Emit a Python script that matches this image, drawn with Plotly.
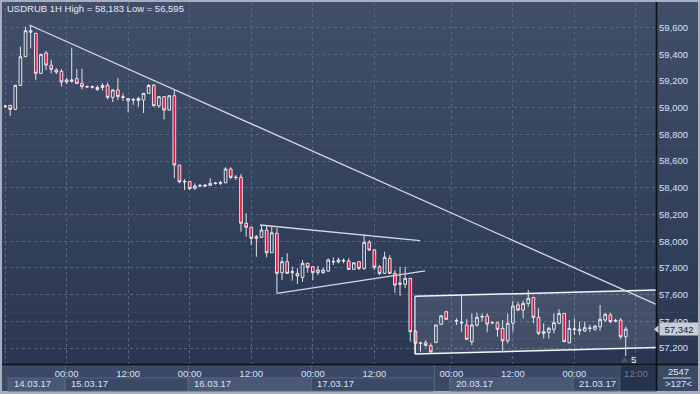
import plotly.graph_objects as go

# ---------------- data ----------------
title_text = "USDRUB 1H High = 58,183 Low = 56,595"

opens = [59.006, 59.018, 58.988, 59.168, 59.382, 59.577, 59.558, 59.258, 59.410, 59.318,
         59.268, 59.272, 59.193, 59.198, 59.218, 59.183, 59.156, 59.155, 59.152, 59.152,
         59.168, 59.078, 59.133, 59.078, 59.069, 59.058, 59.054, 59.058, 59.108, 59.170,
         59.015, 59.083, 58.983, 59.090, 58.571, 58.444, 58.448, 58.397, 58.414, 58.412,
         58.419, 58.433, 58.434, 58.439, 58.541, 58.478, 58.479, 58.135, 58.105, 58.022,
         58.030, 58.084, 57.914, 58.060, 57.765, 57.847, 57.765, 57.760, 57.730, 57.835,
         57.809, 57.765, 57.765, 57.777, 57.845, 57.845, 57.852, 57.852, 57.790, 57.847,
         57.797, 57.992, 57.935, 57.809, 57.760, 57.872, 57.760, 57.678, 57.678, 57.723,
         57.328, 57.236, 57.240, 57.218, 57.243, 57.378, 57.472, None, 57.403, 57.388,
         57.373, 57.248, 57.373, 57.433, 57.440, 57.390, 57.390, 57.348, 57.255, 57.386,
         57.523, 57.485, 57.535, 57.580, 57.430, 57.311, 57.318, 57.341, 57.386, 57.460,
         57.240, 57.339, 57.330, 57.328, 57.347, 57.341, 57.360, 57.410, 57.448, 57.407,
         57.410, 57.285]
highs = [59.021, 59.021, 59.170, 59.457, 59.607, 59.620, 59.560, 59.403, 59.425, 59.360,
         59.295, 59.290, 59.223, 59.450, 59.290, 59.292, 59.168, 59.167, 59.167, 59.183,
         59.188, 59.137, 59.223, 59.107, 59.073, 59.073, 59.083, 59.110, 59.178, 59.178,
         59.088, 59.088, 59.096, 59.133, 58.572, 58.466, 58.451, 58.434, 58.429, 58.425,
         58.472, 58.444, 58.454, 58.554, 58.554, 58.496, 58.504, 58.209, 58.107, 58.047,
         58.122, 58.114, 58.109, 58.099, 57.882, 57.910, 57.809, 57.797, 57.860, 57.837,
         57.815, 57.815, 57.802, 57.872, 57.880, 57.877, 57.872, 57.872, 57.839, 57.847,
         58.047, 58.009, 57.942, 57.822, 57.922, 57.897, 57.785, 57.809, 57.809, 57.725,
         57.335, 57.248, 57.260, 57.236, 57.373, 57.448, 57.478, None, 57.423, 57.598,
         57.416, 57.460, 57.465, 57.460, 57.460, 57.398, 57.395, 57.410, 57.460, 57.555,
         57.547, 57.555, 57.635, 57.583, 57.498, 57.386, 57.360, 57.460, 57.490, 57.463,
         57.410, 57.423, 57.398, 57.398, 57.373, 57.373, 57.523, 57.465, 57.465, 57.418,
         57.423, 57.360]
lows = [58.998, 58.940, 58.983, 59.163, 59.380, 59.445, 59.208, 59.253, 59.283, 59.258,
        59.253, 59.159, 59.178, 59.188, 59.178, 59.138, 59.148, 59.144, 59.125, 59.128,
        59.063, 59.043, 59.058, 59.051, 58.964, 59.021, 59.008, 58.961, 59.107, 59.008,
        58.998, 58.913, 58.979, 58.472, 58.434, 58.384, 58.384, 58.384, 58.404, 58.410,
        58.418, 58.425, 58.421, 58.434, 58.464, 58.459, 58.072, 58.034, 57.972, 57.884,
        58.024, 57.880, 57.912, 57.610, 57.710, 57.755, 57.705, 57.680, 57.697, 57.765,
        57.710, 57.747, 57.755, 57.772, 57.822, 57.835, 57.835, 57.785, 57.785, 57.785,
        57.785, 57.927, 57.785, 57.747, 57.755, 57.755, 57.615, 57.592, 57.650, 57.248,
        57.161, 57.173, 57.210, 57.156, 57.236, 57.373, 57.410, None, 57.373, 57.323,
        57.260, 57.223, 57.360, 57.398, 57.318, 57.378, 57.285, 57.173, 57.236, 57.323,
        57.478, 57.423, 57.510, 57.386, 57.298, 57.273, 57.273, 57.311, 57.380, 57.245,
        57.236, 57.298, 57.298, 57.324, 57.323, 57.330, 57.330, 57.398, 57.386, 57.393,
        57.266, 57.141]
closes = [59.013, 58.988, 59.168, 59.382, 59.577, 59.565, 59.258, 59.400, 59.320, 59.288,
          59.283, 59.193, 59.208, 59.208, 59.183, 59.158, 59.158, 59.156, 59.137, 59.167,
          59.078, 59.133, 59.084, 59.081, 59.052, 59.060, 59.069, 59.108, 59.167, 59.015,
          59.083, 58.983, 59.090, 58.571, 58.446, 58.448, 58.395, 58.414, 58.418, 58.421,
          58.434, 58.435, 58.439, 58.541, 58.479, 58.479, 58.135, 58.105, 58.022, 58.034,
          58.084, 57.914, 58.064, 57.760, 57.847, 57.760, 57.772, 57.740, 57.835, 57.805,
          57.765, 57.785, 57.785, 57.860, 57.848, 57.860, 57.856, 57.790, 57.839, 57.797,
          57.992, 57.935, 57.805, 57.760, 57.880, 57.760, 57.672, 57.685, 57.723, 57.323,
          57.236, 57.237, 57.221, 57.173, 57.373, 57.442, 57.416, None, 57.405, 57.393,
          57.266, 57.373, 57.430, 57.436, 57.380, 57.392, 57.341, 57.255, 57.386, 57.515,
          57.485, 57.535, 57.573, 57.430, 57.311, 57.323, 57.348, 57.390, 57.460, 57.248,
          57.348, 57.343, 57.341, 57.353, 57.350, 57.365, 57.416, 57.453, 57.398, 57.403,
          57.285, 57.342]

time_tick_idx = [0, 12, 24, 36, 48, 60, 72, 87, 99, 111, 123]
time_tick_text = ["12:00", "00:00", "12:00", "00:00", "12:00", "00:00",
                  "12:00", "00:00", "12:00", "00:00", "12:00"]
day_start_idx = [0.9, 12, 36, 60, 87, 111]
day_end_idx = [12, 36, 60, 84, 111, 120]
day_labels = ["14.03.17", "15.03.17", "16.03.17", "17.03.17", "20.03.17", "21.03.17"]

last_price = 57.342
last_price_text = "57,342"
bars_count = "2547"
scale_text = ">127<"
marker_text = "5"
marker_idx = [120.8]
marker_price = [57.107]

main_trend_x = [4.74, 128]
main_trend_y = [59.620, 57.510]
tri_upper_x = [49.7, 80.9]
tri_upper_y = [58.122, 58.005]
tri_lower_x = [53.0, 81.9]
tri_lower_y = [57.610, 57.779]
channel_x = [79.9, 128]
channel_top = [57.588, 57.636]
channel_bot = [57.156, 57.205]

# ---------------- geometry ----------------
W, H = 700, 394
ML, MR, MT, MB = 4, 44, 2, 30
PW = W - ML - MR
PH = H - MT - MB


def pxx(X):
    return (X - ML) / PW


def pxy(Y):
    return (H - MB - Y) / PH


FONT = "Liberation Sans, Arial, sans-serif"
LABEL = "#d6e2f6"

shapes = []


def rect(X0, Y0, X1, Y1, color, layer="below", line=None):
    shapes.append(dict(type="rect", xref="paper", yref="paper",
                       x0=pxx(X0), x1=pxx(X1), y0=pxy(Y1), y1=pxy(Y0),
                       fillcolor=color, layer=layer,
                       line=line or dict(width=0)))


def hline(X0, X1, Y, color, width=1, layer="below"):
    shapes.append(dict(type="line", xref="paper", yref="paper",
                       x0=pxx(X0), x1=pxx(X1), y0=pxy(Y), y1=pxy(Y),
                       line=dict(color=color, width=width), layer=layer))


def vline(X, Y0, Y1, color, width=1, layer="below"):
    shapes.append(dict(type="line", xref="paper", yref="paper",
                       x0=pxx(X), x1=pxx(X), y0=pxy(Y0), y1=pxy(Y1),
                       line=dict(color=color, width=width), layer=layer))


# gradient background (stepped)
top_c = (64, 78, 106)
bot_c = (43, 55, 82)
N = 28
Y0, Y1 = 2, 364
for k in range(N):
    t = k / (N - 1)
    col = tuple(round(top_c[j] + (bot_c[j] - top_c[j]) * t) for j in range(3))
    ya = Y0 + (Y1 - Y0) * k / N
    yb = Y0 + (Y1 - Y0) * (k + 1) / N
    rect(2, ya, 698, yb + 0.5, "rgb(%d,%d,%d)" % col)

# time band
BAND = "#3c4966"
rect(2, 364, 698, 391, BAND)

# channel fill (between grid and traces)
shapes.append(dict(type="path", xref="x", yref="y", layer="between",
                   path="M %g,%g L %g,%g L %g,%g L %g,%g Z" % (
                       channel_x[0], channel_top[0], channel_x[1], channel_top[1],
                       channel_x[1], channel_bot[1], channel_x[0], channel_bot[0]),
                   fillcolor="rgba(220,228,245,0.13)", line=dict(width=0)))

# date boxes
for k, (a, b) in enumerate(zip(day_start_idx, day_end_idx)):
    fill = "#4a5775" if k in (0, 2, 4) else BAND
    shapes.append(dict(type="rect", xref="x", yref="paper",
                       x0=a - 0.3, x1=b - 0.3, y0=pxy(391), y1=pxy(378),
                       fillcolor=fill, line=dict(color="#56637e", width=1),
                       layer="below"))
# day separators in the time band
for a in day_start_idx[1:] + [84]:
    shapes.append(dict(type="line", xref="x", yref="paper",
                       x0=a - 0.3, x1=a - 0.3, y0=pxy(391), y1=pxy(365),
                       line=dict(color="#56637e", width=1), layer="below"))
# current-time dark box
shapes.append(dict(type="rect", xref="x", yref="paper",
                   x0=119.9, x1=127.5, y0=pxy(391), y1=pxy(365),
                   fillcolor="#28334c", line=dict(color="#46526c", width=1),
                   layer="below"))

# separators (black)
hline(2, 698, 364.5, "#0b1019", 1.6, layer="above")
vline(656.5, 2, 391, "#0b1019", 1.6, layer="above")
# cover left edge of time row (clipped label in reference)
rect(0, 365.3, 2, 378, "#a7afbe", layer="above")
rect(2, 365.3, 4.6, 378, BAND, layer="above")

# underline in count box
hline(663, 691, 378, "#c9d4e8", 1, layer="above")

# price tag arrow
shapes.append(dict(type="path", xref="paper", yref="paper", layer="above",
                   path="M %g,%g L %g,%g L %g,%g Z" % (
                       pxx(654), pxy(329.3), pxx(658.5), pxy(325.3), pxx(658.5), pxy(333.3)),
                   fillcolor="#c8cdd7", line=dict(width=0)))

fig = go.Figure()

idx = list(range(len(opens)))
fig.add_trace(go.Candlestick(
    x=idx, open=opens, high=highs, low=lows, close=closes,
    increasing=dict(line=dict(color="#f3f5f8", width=0.9), fillcolor="rgba(0,0,0,0)"),
    decreasing=dict(line=dict(color="#f3f5f8", width=0.9), fillcolor="#e5103a"),
    whiskerwidth=0, showlegend=False))

# channel border lines
for yy in (channel_top, channel_bot):
    fig.add_trace(go.Scatter(x=channel_x, y=yy, mode="lines",
                             line=dict(color="#f4f5f8", width=1.5),
                             showlegend=False, hoverinfo="skip"))
fig.add_trace(go.Scatter(x=[channel_x[0], channel_x[0]], y=[channel_bot[0], channel_top[0]],
                         mode="lines", line=dict(color="#f4f5f8", width=1.2),
                         showlegend=False, hoverinfo="skip"))
# trend lines
for xx, yy in ((main_trend_x, main_trend_y), (tri_upper_x, tri_upper_y),
               (tri_lower_x, tri_lower_y)):
    fig.add_trace(go.Scatter(x=xx, y=yy, mode="lines",
                             line=dict(color="#d5d9e1", width=1.3),
                             showlegend=False, hoverinfo="skip"))
# marker
fig.add_trace(go.Scatter(x=marker_idx, y=marker_price, mode="markers",
                         marker=dict(symbol="triangle-up", size=7, color="#4b5772"),
                         showlegend=False, hoverinfo="skip"))

annotations = []
annotations.append(dict(text=title_text, xref="paper", yref="paper",
                        x=pxx(5), y=pxy(8.5), xanchor="left", yanchor="middle",
                        showarrow=False, font=dict(family=FONT, size=9.5, color="#e6ebf3")))
for a, lab in zip(day_start_idx, day_labels):
    annotations.append(dict(text=lab, xref="x", yref="paper", x=a - 0.3, xshift=4,
                            y=pxy(383.5), xanchor="left", yanchor="middle",
                            showarrow=False, font=dict(family=FONT, size=9.5, color="#d9e3f3")))
annotations.append(dict(text=marker_text, xref="x", yref="y", x=122.5, y=57.116,
                        xanchor="center", yanchor="middle", showarrow=False,
                        font=dict(family=FONT, size=9.5, color="#eef1f6")))
annotations.append(dict(text=last_price_text, xref="paper", yref="y", x=pxx(658.5),
                        y=last_price, xanchor="left", yanchor="middle", showarrow=False,
                        width=36, height=10, bgcolor="#c8cdd7", borderpad=1,
                        font=dict(family=FONT, size=9.5, color="#17223b")))
annotations.append(dict(text=bars_count, xref="paper", yref="paper", x=pxx(678),
                        y=pxy(371.5), xanchor="center", yanchor="middle", showarrow=False,
                        font=dict(family=FONT, size=9.5, color="#dde6f5")))
annotations.append(dict(text=scale_text, xref="paper", yref="paper", x=pxx(678),
                        y=pxy(383.7), xanchor="center", yanchor="middle", showarrow=False,
                        font=dict(family=FONT, size=9.5, color="#dde6f5")))

tick_text = list(time_tick_text)
tick_text[-1] = '<span style="color:#6e7c98">%s</span>' % tick_text[-1]

fig.update_layout(
    width=W, height=H,
    margin=dict(l=ML, r=MR, t=MT, b=MB, pad=0),
    paper_bgcolor="#a7afbe",
    plot_bgcolor="rgba(0,0,0,0)",
    separators=",.",
    boxgap=0.25,
    shapes=shapes,
    annotations=annotations,
    showlegend=False,
    hovermode=False,
    xaxis=dict(range=[-0.2, 126.9], rangeslider=dict(visible=False),
               tickvals=time_tick_idx, ticktext=tick_text, ticks="",
               tickfont=dict(family=FONT, size=9.5, color=LABEL),
               ticklabelstandoff=2,
               showgrid=True, gridcolor="#58667f", griddash="3px,3px", gridwidth=1,
               zeroline=False, showline=False, fixedrange=True),
    yaxis=dict(range=[57.081, 59.792], side="right", tick0=57.2, dtick=0.2,
               tickformat=".3f", ticks="",
               tickfont=dict(family=FONT, size=9.5, color=LABEL),
               ticklabelstandoff=2,
               showgrid=True, gridcolor="#58667f", griddash="3px,3px", gridwidth=1,
               zeroline=False, showline=False, fixedrange=True),
)

fig.write_html("out.html", config={"displayModeBar": False},
               post_script="document.body.style.margin='0px';document.body.style.overflow='hidden';")
